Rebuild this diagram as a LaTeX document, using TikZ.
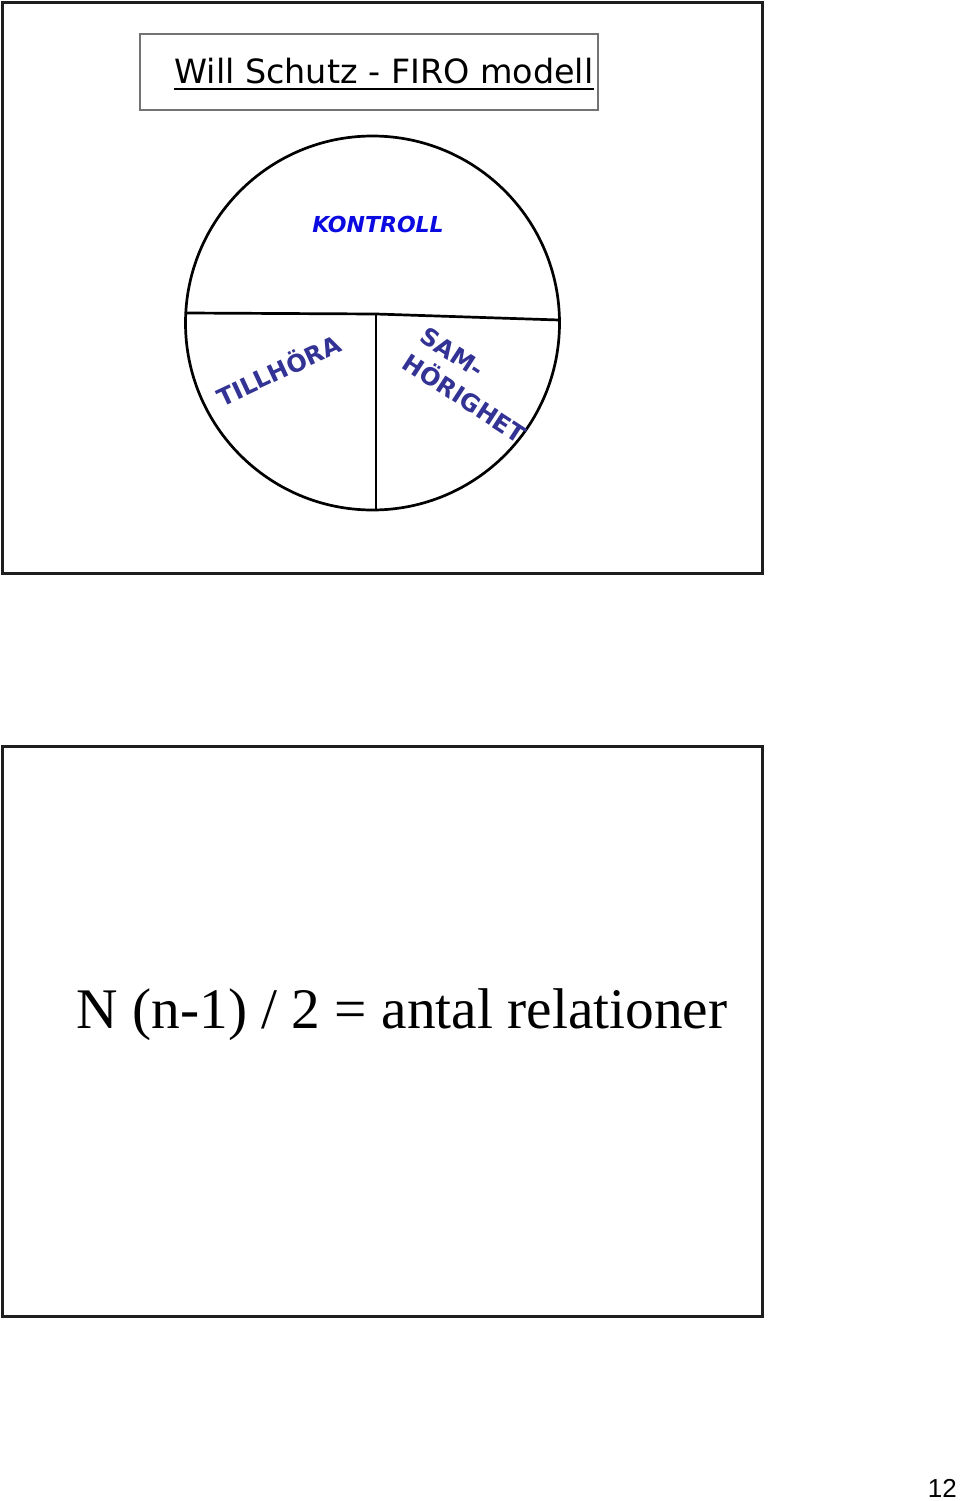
\documentclass[tikz,border=0pt]{standalone}
\usepackage{fontspec}
\newfontfamily\comicf{DejaVu Sans}
\newfontfamily\timesf{Liberation Serif}
\newfontfamily\arialf{Liberation Sans}
\definecolor{kblue}{RGB}{10,10,225}
\definecolor{navy}{RGB}{51,51,150}
\definecolor{framec}{RGB}{30,30,30}
\tikzset{
  slideframe/.style={draw=framec, line width=3pt},
  titleframe/.style={draw=black!55, line width=1.1pt},
  pieline/.style={draw=black, line width=2.7pt},
  seglabel/.style={text=navy, font=\comicf\bfseries\fontsize{24}{32}\selectfont, inner sep=0pt},
}
\begin{document}
\begin{tikzpicture}[x=1pt,y=-1pt]
\useasboundingbox (0,0) rectangle (960,1501);
% slide frames
\draw[slideframe] (2,3) rectangle (762,573);
\draw[slideframe] (2,746) rectangle (762,1316);
% title
\draw[titleframe] (140,34) rectangle (598,110);
\node[anchor=base, inner sep=0pt, font=\comicf\fontsize{33.4}{38}\selectfont] (title) at (384,84) {Will Schutz - FIRO modell};
\coordinate (ulA) at ([yshift=-5pt]title.base west);
\coordinate (ulB) at ([yshift=-5pt]title.base east);
\draw[line width=2.6pt] (ulA) -- (ulB);
% circle
\node[circle, pieline, minimum size=374pt, inner sep=0pt] (circ) at (372.5,323) {};
\coordinate (L) at (186,313);
\coordinate (M) at (376,314);
\coordinate (R) at (559,320);
\coordinate (B) at (376,510);
\draw[pieline] (L) -- (M) -- (R);
\draw[pieline] (M) -- (B);
% labels
\node[text=kblue, font=\comicf\bfseries\itshape\fontsize{22}{26}\selectfont, inner sep=0pt] (kontroll) at (378,224) {KONTROLL};
\node[seglabel, rotate=25] (tillhora) at (278,369) {TILLHÖRA};
\node[seglabel, rotate=-33, align=left] (samhor) at (473,385) {SAM-\\HÖRIGHET};
% formula
\node[anchor=base, inner sep=0pt, font=\timesf\fontsize{57.4}{62}\selectfont] (formula) at (402,1028) {N (n-1) / 2 = antal relationer};
% page number
\node[anchor=base east, inner sep=0pt, font=\arialf\fontsize{26}{30}\selectfont] (pagenum) at (957,1497) {12};
\end{tikzpicture}
\end{document}
